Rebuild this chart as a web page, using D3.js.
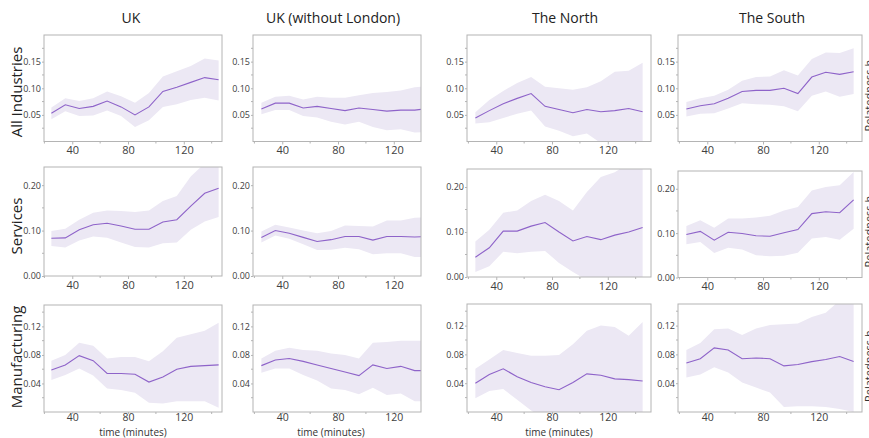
<!DOCTYPE html>
<html><head><meta charset="utf-8">
<script src="https://cdn.jsdelivr.net/npm/d3@7"></script>
<style>
html,body{margin:0;padding:0;background:#fff;overflow:hidden}
svg{display:block;font-family:"Open Sans",sans-serif}
</style></head>
<body><svg id="c" width="869" height="438"></svg>
<script>
const minutes = [25,35,45,55,65,75,85,95,105,115,125,135,145];
const regions = ["UK","UK (without London)","The North","The South"];
const industries = ["All Industries","Services","Manufacturing"];
const xTicks = [40,80,120];
const xMinor = [20,60,100,140];
const yTicksAll = [0.05,0.10,0.15];
const yTicksServ = [0.00,0.10,0.20];
const yTicksManu = [0.04,0.08,0.12];

// All Industries
const allUK_mean = [0.053,0.069,0.062,0.066,0.076,0.065,0.050,0.065,0.094,0.102,0.111,0.120,0.116];
const allUK_hi   = [0.064,0.081,0.076,0.081,0.094,0.085,0.073,0.091,0.122,0.132,0.142,0.156,0.152];
const allUK_lo   = [0.042,0.057,0.048,0.049,0.058,0.048,0.027,0.040,0.065,0.070,0.078,0.082,0.077];
const allUKnl_mean = [0.061,0.072,0.072,0.063,0.066,0.062,0.058,0.063,0.060,0.057,0.059,0.059,0.062];
const allUKnl_hi   = [0.073,0.084,0.086,0.079,0.084,0.082,0.082,0.087,0.091,0.093,0.096,0.102,0.104];
const allUKnl_lo   = [0.051,0.059,0.059,0.048,0.045,0.037,0.032,0.037,0.027,0.021,0.023,0.017,0.018];
const allN_mean = [0.044,0.058,0.071,0.081,0.090,0.066,0.060,0.054,0.060,0.056,0.058,0.062,0.056];
const allN_hi   = [0.055,0.078,0.095,0.110,0.121,0.103,0.100,0.097,0.102,0.113,0.131,0.133,0.148];
const allN_lo   = [0.034,0.036,0.044,0.052,0.058,0.028,0.020,0.010,0.015,-0.003,-0.010,-0.016,-0.022];
const allS_mean = [0.061,0.067,0.071,0.081,0.094,0.096,0.096,0.100,0.090,0.121,0.130,0.126,0.131];
const allS_hi   = [0.074,0.081,0.086,0.097,0.114,0.121,0.122,0.134,0.124,0.155,0.167,0.166,0.175];
const allS_lo   = [0.047,0.052,0.053,0.062,0.072,0.070,0.069,0.066,0.057,0.086,0.094,0.084,0.089];
// Services
const serUK_mean = [0.083,0.084,0.102,0.113,0.116,0.110,0.103,0.103,0.119,0.124,0.154,0.182,0.193];
const serUK_hi   = [0.099,0.104,0.124,0.139,0.144,0.143,0.141,0.144,0.165,0.176,0.219,0.248,0.260];
const serUK_lo   = [0.066,0.063,0.078,0.087,0.084,0.074,0.064,0.063,0.072,0.074,0.102,0.120,0.130];
const serUKnl_mean = [0.085,0.100,0.094,0.085,0.076,0.080,0.087,0.087,0.079,0.087,0.087,0.086,0.087];
const serUKnl_hi   = [0.098,0.113,0.107,0.100,0.094,0.099,0.111,0.110,0.109,0.122,0.122,0.128,0.130];
const serUKnl_lo   = [0.074,0.089,0.082,0.070,0.057,0.058,0.062,0.059,0.048,0.050,0.050,0.042,0.042];
const serN_mean = [0.044,0.065,0.102,0.102,0.113,0.121,0.100,0.080,0.090,0.083,0.093,0.100,0.110];
const serN_hi   = [0.079,0.105,0.143,0.148,0.169,0.183,0.169,0.148,0.189,0.222,0.233,0.252,0.260];
const serN_lo   = [0.011,0.024,0.056,0.053,0.056,0.058,0.031,0.011,-0.007,-0.020,-0.030,-0.030,-0.040];
const serS_mean = [0.097,0.104,0.084,0.102,0.099,0.094,0.093,0.101,0.108,0.144,0.148,0.146,0.175];
const serS_hi   = [0.116,0.129,0.112,0.133,0.133,0.135,0.139,0.151,0.159,0.196,0.204,0.208,0.238];
const serS_lo   = [0.075,0.080,0.055,0.067,0.063,0.050,0.048,0.049,0.056,0.088,0.091,0.085,0.110];
// Manufacturing
const manUK_mean = [0.059,0.066,0.079,0.072,0.054,0.054,0.053,0.042,0.049,0.060,0.064,0.065,0.066];
const manUK_hi   = [0.072,0.080,0.097,0.093,0.075,0.077,0.077,0.071,0.085,0.104,0.109,0.114,0.125];
const manUK_lo   = [0.045,0.052,0.061,0.051,0.033,0.031,0.027,0.013,0.012,0.015,0.015,0.015,0.006];
const manUKnl_mean = [0.065,0.073,0.075,0.071,0.066,0.061,0.056,0.051,0.066,0.061,0.064,0.058,0.058];
const manUKnl_hi   = [0.075,0.086,0.090,0.087,0.086,0.082,0.080,0.075,0.097,0.098,0.100,0.100,0.100];
const manUKnl_lo   = [0.055,0.061,0.061,0.052,0.044,0.033,0.031,0.025,0.034,0.024,0.026,0.015,0.015];
const manN_mean = [0.040,0.052,0.060,0.049,0.041,0.035,0.031,0.041,0.053,0.051,0.046,0.045,0.043];
const manN_hi   = [0.060,0.073,0.086,0.082,0.078,0.078,0.079,0.094,0.113,0.120,0.118,0.106,0.125];
const manN_lo   = [0.019,0.029,0.032,0.017,0.002,-0.010,-0.020,-0.020,-0.020,-0.020,-0.020,-0.020,-0.020];
const manS_mean = [0.068,0.074,0.089,0.086,0.074,0.075,0.074,0.064,0.066,0.070,0.073,0.077,0.070];
const manS_hi   = [0.086,0.096,0.115,0.116,0.107,0.116,0.121,0.122,0.123,0.132,0.138,0.155,0.155];
const manS_lo   = [0.048,0.052,0.062,0.055,0.041,0.034,0.027,0.007,0.008,0.008,0.007,0.004,0.000];

const panels = [
  [[allUK_mean,allUK_lo,allUK_hi],[allUKnl_mean,allUKnl_lo,allUKnl_hi],[allN_mean,allN_lo,allN_hi],[allS_mean,allS_lo,allS_hi]],
  [[serUK_mean,serUK_lo,serUK_hi],[serUKnl_mean,serUKnl_lo,serUKnl_hi],[serN_mean,serN_lo,serN_hi],[serS_mean,serS_lo,serS_hi]],
  [[manUK_mean,manUK_lo,manUK_hi],[manUKnl_mean,manUKnl_lo,manUKnl_hi],[manN_mean,manN_lo,manN_hi],[manS_mean,manS_lo,manS_hi]]
];

// layout
const colL = [44, 253, 467, 678];
const colR = [222, 421, 651, 862];
const colW = 184;
const rowYMax = [0.2, 0.24, 0.15];
const rowTicks = [yTicksAll, yTicksServ, yTicksManu];
const fmt = d3.format(".2f");
const rowTop = [[35,35,35,35],[167,167,169,171],[305,305,304,304]];
const rowBot = [[141.5,141.5,141.5,141.5],[276,276,277,277.5],[412,412,412,412]];

const svg = d3.select("#c");
const frameCol = "#b4b4b4";
const lineCol = "#8e63c9";
const bandCol = "#ece8f4";
const textCol = "#404040";

// column titles
const titleX = [131, 333, 565, 772];
regions.forEach((r,i)=>{
  svg.append("text").attr("x",titleX[i]).attr("y",23).attr("text-anchor","middle")
    .attr("font-size",14).attr("fill","#222").text(r);
});
// row labels
const rowLabY = [92, 226, 357];
industries.forEach((r,i)=>{
  svg.append("text").attr("transform",`translate(22,${rowLabY[i]}) rotate(-90)`)
    .attr("text-anchor","middle").attr("font-size",15).attr("fill","#222").text(r);
});

const defs = svg.append("defs");

panels.forEach((row,ri)=>{
  row.forEach((series,ci)=>{
    const [mean, lo, hi] = series;
    const top = rowTop[ri][ci], bot = rowBot[ri][ci];
    const left = colL[ci], right = colR[ci];
    const x0 = colL[ci] - (ci===0?1:0);
    const x = d3.scaleLinear().domain([19,151]).range([x0, x0 + colW]);
    const y = d3.scaleLinear().domain([0, rowYMax[ri]]).range([bot, top]);
    const id = `clip${ri}${ci}`;
    defs.append("clipPath").attr("id",id).append("rect")
      .attr("x",left).attr("y",top).attr("width",right-left).attr("height",bot-top);
    const g = svg.append("g");
    const pg = g.append("g").attr("clip-path",`url(#${id})`);
    const pts = minutes.map((m,k)=>({m, v:mean[k], l:lo[k], h:hi[k]}));
    pg.append("path").datum(pts)
      .attr("d", d3.area().x(d=>x(d.m)).y0(d=>y(d.l)).y1(d=>y(d.h)))
      .attr("fill", bandCol);
    pg.append("path").datum(pts)
      .attr("d", d3.line().x(d=>x(d.m)).y(d=>y(d.v)))
      .attr("fill","none").attr("stroke",lineCol).attr("stroke-width",1.1);
    // frame
    g.append("rect").attr("x",left).attr("y",top).attr("width",right-left).attr("height",bot-top)
      .attr("fill","none").attr("stroke",frameCol).attr("stroke-width",1);
    // y axis
    const ya = d3.axisLeft(y).tickValues(rowTicks[ri]).tickFormat(fmt).tickSize(2).tickPadding(1);
    const yag = g.append("g").attr("transform",`translate(${left},0)`).call(ya);
    yag.select(".domain").remove();
    yag.selectAll("line").attr("stroke",frameCol);
    yag.selectAll("text").attr("font-size",9).attr("fill",textCol).attr("font-family","Open Sans, sans-serif");
    const step = rowTicks[ri][1]-rowTicks[ri][0];
    const minorY = rowTicks[ri].map(t=>t+step/2).concat([rowTicks[ri][0]-step/2]).filter(t=>t>0 && t<rowYMax[ri]);
    g.selectAll(null).data(minorY).enter().append("line")
      .attr("x1",left-2).attr("x2",left).attr("y1",d=>y(d)).attr("y2",d=>y(d)).attr("stroke",frameCol);
    // x axis
    const last = ri===2;
    const xa = d3.axisBottom(x).tickValues(xTicks).tickFormat(d3.format("d"))
      .tickSize(last?2:3).tickPadding(last?0:2);
    const xag = g.append("g").attr("transform",`translate(0,${bot})`).call(xa);
    xag.select(".domain").remove();
    xag.selectAll("line").attr("stroke",frameCol);
    xag.selectAll("text").attr("font-size",last?10.5:11).attr("fill",textCol).attr("font-family","Open Sans, sans-serif");
    g.selectAll(null).data(xMinor.filter(t=>x(t)>=left && x(t)<=right)).enter().append("line")
      .attr("x1",d=>x(d)).attr("x2",d=>x(d)).attr("y1",bot).attr("y2",bot+2).attr("stroke",frameCol);
    if (last && ci<3) {
      svg.append("text").attr("x",(left+right)/2+ (ci===1?-6:0)).attr("y",435.5).attr("text-anchor","middle")
        .attr("font-size",10).attr("fill","#333").text("time (minutes)");
    }
  });
  // right-side label, cropped by the image edge as in the reference
  svg.append("text").attr("transform",`translate(873,${rowBot[ri][3]-10}) rotate(-90)`)
    .attr("font-size",11).attr("fill","#333").text("Relatedness h");
});
</script></body></html>
